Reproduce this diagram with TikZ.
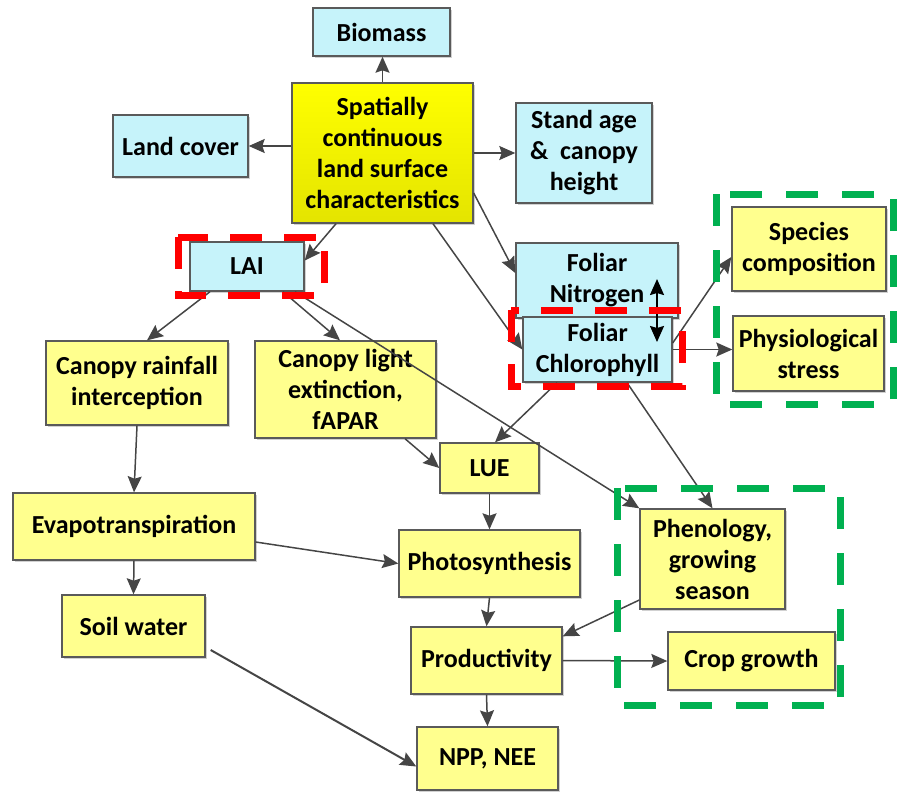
\documentclass[tikz,border=0pt]{standalone}
\usepackage{fontspec}
\setmainfont{Carlito}
\usepackage{tikz}
\usetikzlibrary{arrows.meta,shadows}
\definecolor{skyfill}{HTML}{C6F3FA}
\definecolor{lemonfill}{HTML}{FFFF8E}
\definecolor{goldtop}{HTML}{FFFF00}
\definecolor{goldbot}{HTML}{E4E400}
\definecolor{boxline}{HTML}{5A5A5A}
\definecolor{linkgray}{HTML}{454545}
\definecolor{hired}{HTML}{FF0000}
\definecolor{higreen}{HTML}{00B050}

\begin{document}
\begin{tikzpicture}[x=0.5pt,y=-0.5pt,every node/.style={font=\fontsize{13}{15.5}\selectfont\bfseries,align=center,inner sep=1pt},
  boxbase/.style={draw=boxline,line width=0.7pt,drop shadow={shadow xshift=1.2pt,shadow yshift=-1.2pt,fill=black,opacity=0.18}},
  skybox/.style={boxbase,fill=skyfill},
  lemonbox/.style={boxbase,fill=lemonfill},
  goldbox/.style={boxbase,top color=goldtop,bottom color=goldbot},
  link/.style={draw=linkgray,line width=0.75pt,-{Stealth[length=8pt,width=7pt,inset=1.2pt]}},
  twoway/.style={draw=black,line width=1pt,{Stealth[length=8pt,width=7pt,inset=1pt]}-{Stealth[length=8pt,width=7pt,inset=1pt]}},
  hlred/.style={draw=hired,line width=3.5pt,dash pattern=on 16pt off 11pt},
  hlgreen/.style={draw=higreen,line width=3.5pt,dash pattern=on 16pt off 12pt}]
\useasboundingbox (0,0) rectangle (897,794);
\node[skybox,minimum width=68.5pt,minimum height=24pt] (bio) at (381.5,32) {Biomass};
\node[goldbox,minimum width=90.5pt,minimum height=70pt] (spat) at (382.5,153) {Spatially\\continuous\\land surface\\characteristics};
\node[skybox,minimum width=67.5pt,minimum height=31pt] (land) at (180.5,146) {Land cover};
\node[skybox,minimum width=68pt,minimum height=50pt] (stand) at (584,153) {Stand age\\\&~~canopy\\height};
\node[skybox,minimum width=57pt,minimum height=24.5pt] (lai) at (247,266.5) {LAI};
\node[skybox,minimum width=81pt,minimum height=37.5pt] (nitro) at (597,280.5) {Foliar\\Nitrogen};
\node[skybox,minimum width=74.5pt,minimum height=32.5pt] (chl) at (597.5,349.5) {Foliar\\Chlorophyll};
\node[lemonbox,minimum width=77pt,minimum height=42pt] (spec) at (809,249) {Species\\composition};
\node[lemonbox,minimum width=75.5pt,minimum height=37.5pt] (phys) at (808.5,353.5) {Physiological\\stress};
\node[lemonbox,minimum width=91pt,minimum height=42pt] (rain) at (137,383) {Canopy rainfall\\interception};
\node[lemonbox,minimum width=90.5pt,minimum height=48.5pt] (light) at (345.5,389.5) {Canopy light\\extinction,\\fAPAR};
\node[lemonbox,minimum width=49.5pt,minimum height=25pt] (lue) at (489.5,468) {LUE};
\node[lemonbox,minimum width=121pt,minimum height=33.5pt] (evap) at (134,526.5) {Evapotranspiration};
\node[lemonbox,minimum width=71.5pt,minimum height=31pt] (soil) at (133.5,626) {Soil water};
\node[lemonbox,minimum width=90.5pt,minimum height=33.5pt] (photo) at (489.5,563.5) {Photosynthesis};
\node[lemonbox,minimum width=75.5pt,minimum height=33.5pt] (prod) at (486.5,660.5) {Productivity};
\node[lemonbox,minimum width=70.5pt,minimum height=31.5pt] (npp) at (487.5,758.5) {NPP, NEE};
\node[lemonbox,minimum width=72.5pt,minimum height=50pt] (phen) at (712.5,559) {Phenology,\\growing\\season};
\node[lemonbox,minimum width=83.5pt,minimum height=29pt] (crop) at (751.5,661) {Crop growth};
\coordinate (nup) at (657,279);
\coordinate (ndn) at (657,342);

\draw[link] (spat.north) -- (spat.north |- bio.south);
\draw[link] (spat.west |- land.east) -- (land.east);
\draw[link] (spat.east) -- (stand.west);
\draw[link] ([yshift=-20pt]spat.east) -- ([yshift=3.75pt]nitro.west);
\draw[link] ([xshift=25.25pt]spat.south) -- (chl.west);
\draw[link] ([xshift=-23.25pt]spat.south) -- ([yshift=3pt]lai.east);
\draw[link] ([xshift=-18.5pt]lai.south) -- ([xshift=5pt]rain.north);
\draw[link] ([xshift=18pt]lai.south) -- ([xshift=-2.75pt]light.north);
\draw[link] ([xshift=24pt]lai.south) -- (phen.north west);
\draw[link] ([xshift=-20.25pt]chl.south) -- ([xshift=2.75pt]lue.north);
\draw[link] ([xshift=14.75pt]chl.south) -- (phen.north);
\draw[link] ([yshift=3.25pt]chl.east) -- ([yshift=-4pt]spec.west);
\draw[link] (chl.east) -- (chl.east -| phys.west);
\draw[link] ([xshift=29.75pt]light.south) -- (lue.west);
\draw[link] (lue.south) -- (photo.north);
\draw[link] (rain.south) -- (evap.north);
\draw[link] (evap.south) -- (soil.north);
\draw[link] ([yshift=-7.75pt]evap.east) -- (photo.west);
\draw[link] (photo.south) -- (prod.north);
\draw[link] ([yshift=-20.5pt]phen.west) -- ([yshift=-5pt]prod.north east);
\draw[link] (prod.east) -- (crop.west);
\draw[link] (prod.south) -- (npp.north);
\draw[link,line width=1pt] ([xshift=2.5pt,yshift=-12pt]soil.east) -- ([yshift=-4pt]npp.west);
\draw[twoway] (nup) -- (ndn);

\draw[hlred] (178,237) rectangle (324,295);
\draw[hlred] (511,310) rectangle (682,386);
\draw[hlgreen] (716,194) rectangle (893,404);
\draw[hlgreen] (617,488) rectangle (840,705);
\end{tikzpicture}
\end{document}
